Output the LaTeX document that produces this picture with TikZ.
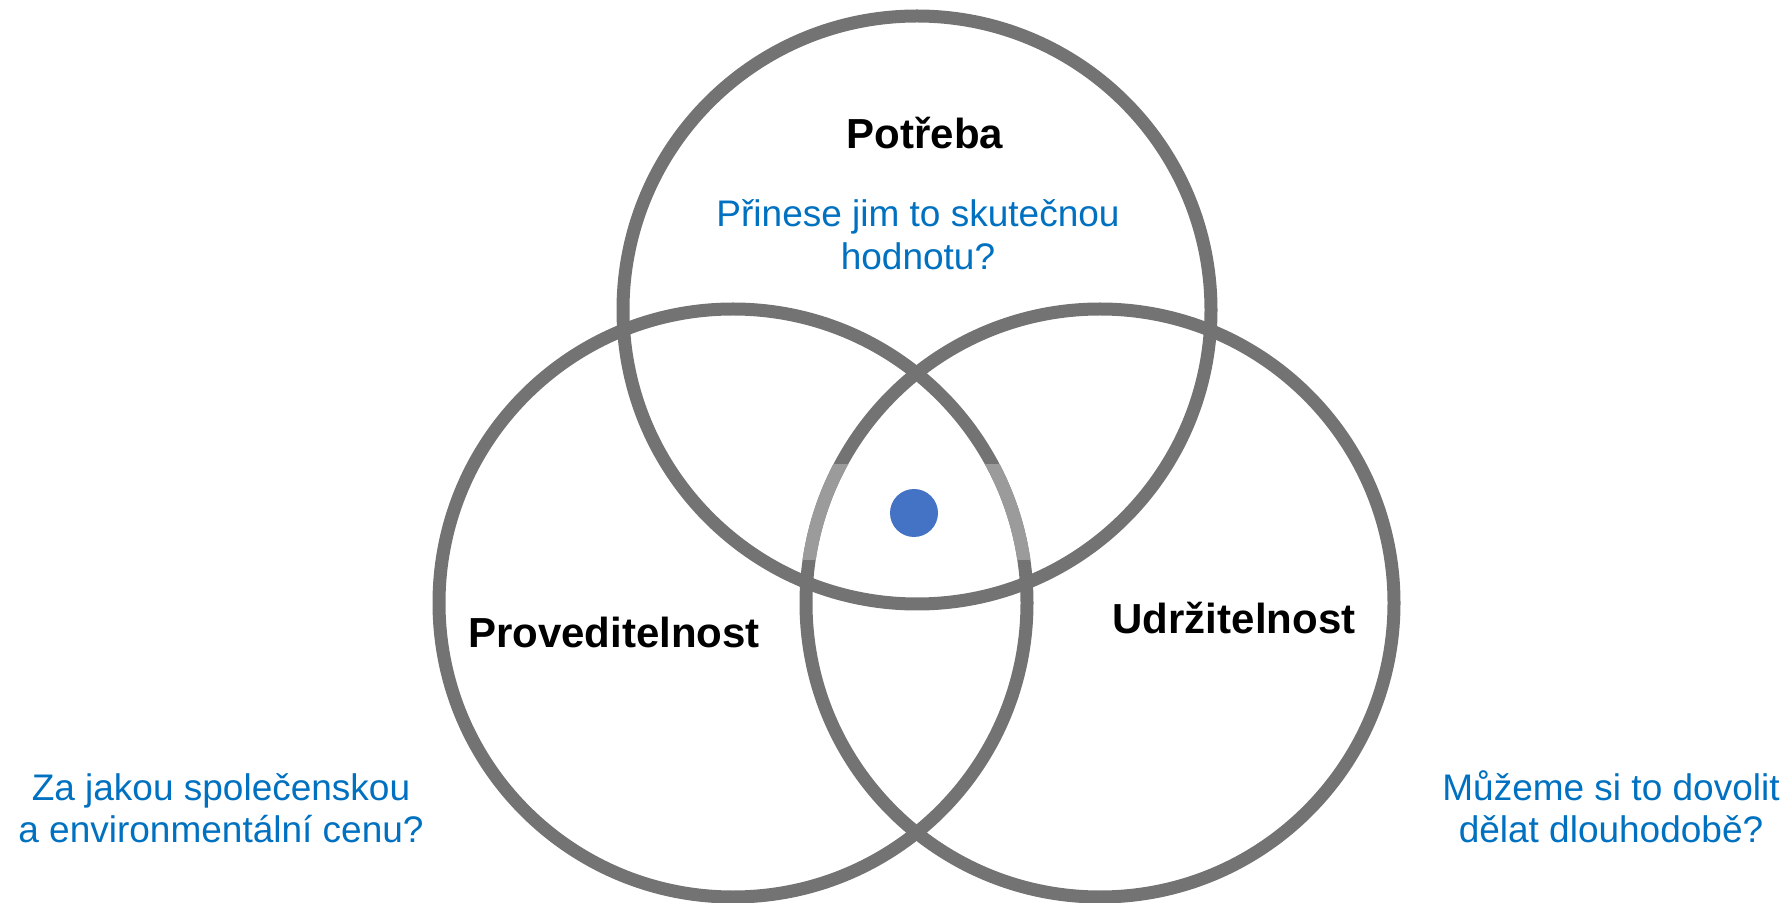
\documentclass[tikz,border=0pt]{standalone}
\usepackage{fontspec}
\setmainfont{Liberation Sans}
\definecolor{ringgray}{RGB}{115,115,115}
\definecolor{ringlight}{RGB}{155,155,155}
\definecolor{qblue}{RGB}{0,112,192}
\definecolor{dotblue}{RGB}{68,114,196}
\tikzset{
  ring/.style={draw=ringgray, line width=6.5pt},
  ringlt/.style={draw=ringlight, line width=6.5pt},
  title/.style={font=\bfseries\fontsize{21}{25}\selectfont, text=black, inner sep=0pt, anchor=base},
  question/.style={font=\fontsize{18.5}{21.3}\selectfont, text=qblue, align=center, inner sep=0pt, anchor=base},
}
\begin{document}
\begin{tikzpicture}[x=0.5pt,y=-0.5pt]
\useasboundingbox (0,0) rectangle (1790,903);
% circles
\coordinate (ct) at (917,310);
\coordinate (cl) at (733,603);
\coordinate (cr) at (1100,603);
\draw[ring] (ct) circle[radius=147pt];
\draw[ring] (cl) circle[radius=147pt];
\draw[ring] (cr) circle[radius=147pt];
% lighter segments
\begin{scope}
  \clip (770,465) rectangle (917,560);
  \draw[ringlt] (cr) circle[radius=147pt];
\end{scope}
\begin{scope}
  \clip (917,465) rectangle (1064,560);
  \draw[ringlt] (cl) circle[radius=147pt];
\end{scope}
% centre dot
\node[circle, fill=dotblue, minimum size=24pt, inner sep=0pt] (dot) at (914,513) {};
% titles
\node[title] (potreba) at (925,149) {Potřeba};
\node[title] (prov) at (614,647) {Proveditelnost};
\node[title] (udrz) at (1234,634) {Udržitelnost};
% questions
\node[question] (q1a) at (918,227) {Přinese jim to skutečnou};
\node[question] (q1b) at (918,270) {hodnotu?};
\node[question] (q2a) at (221,800) {Za jakou společenskou};
\node[question] (q2b) at (221,842) {a environmentální cenu?};
\node[question] (q3a) at (1611,800) {Můžeme si to dovolit};
\node[question] (q3b) at (1611,842) {dělat dlouhodobě?};
\end{tikzpicture}
\end{document}
